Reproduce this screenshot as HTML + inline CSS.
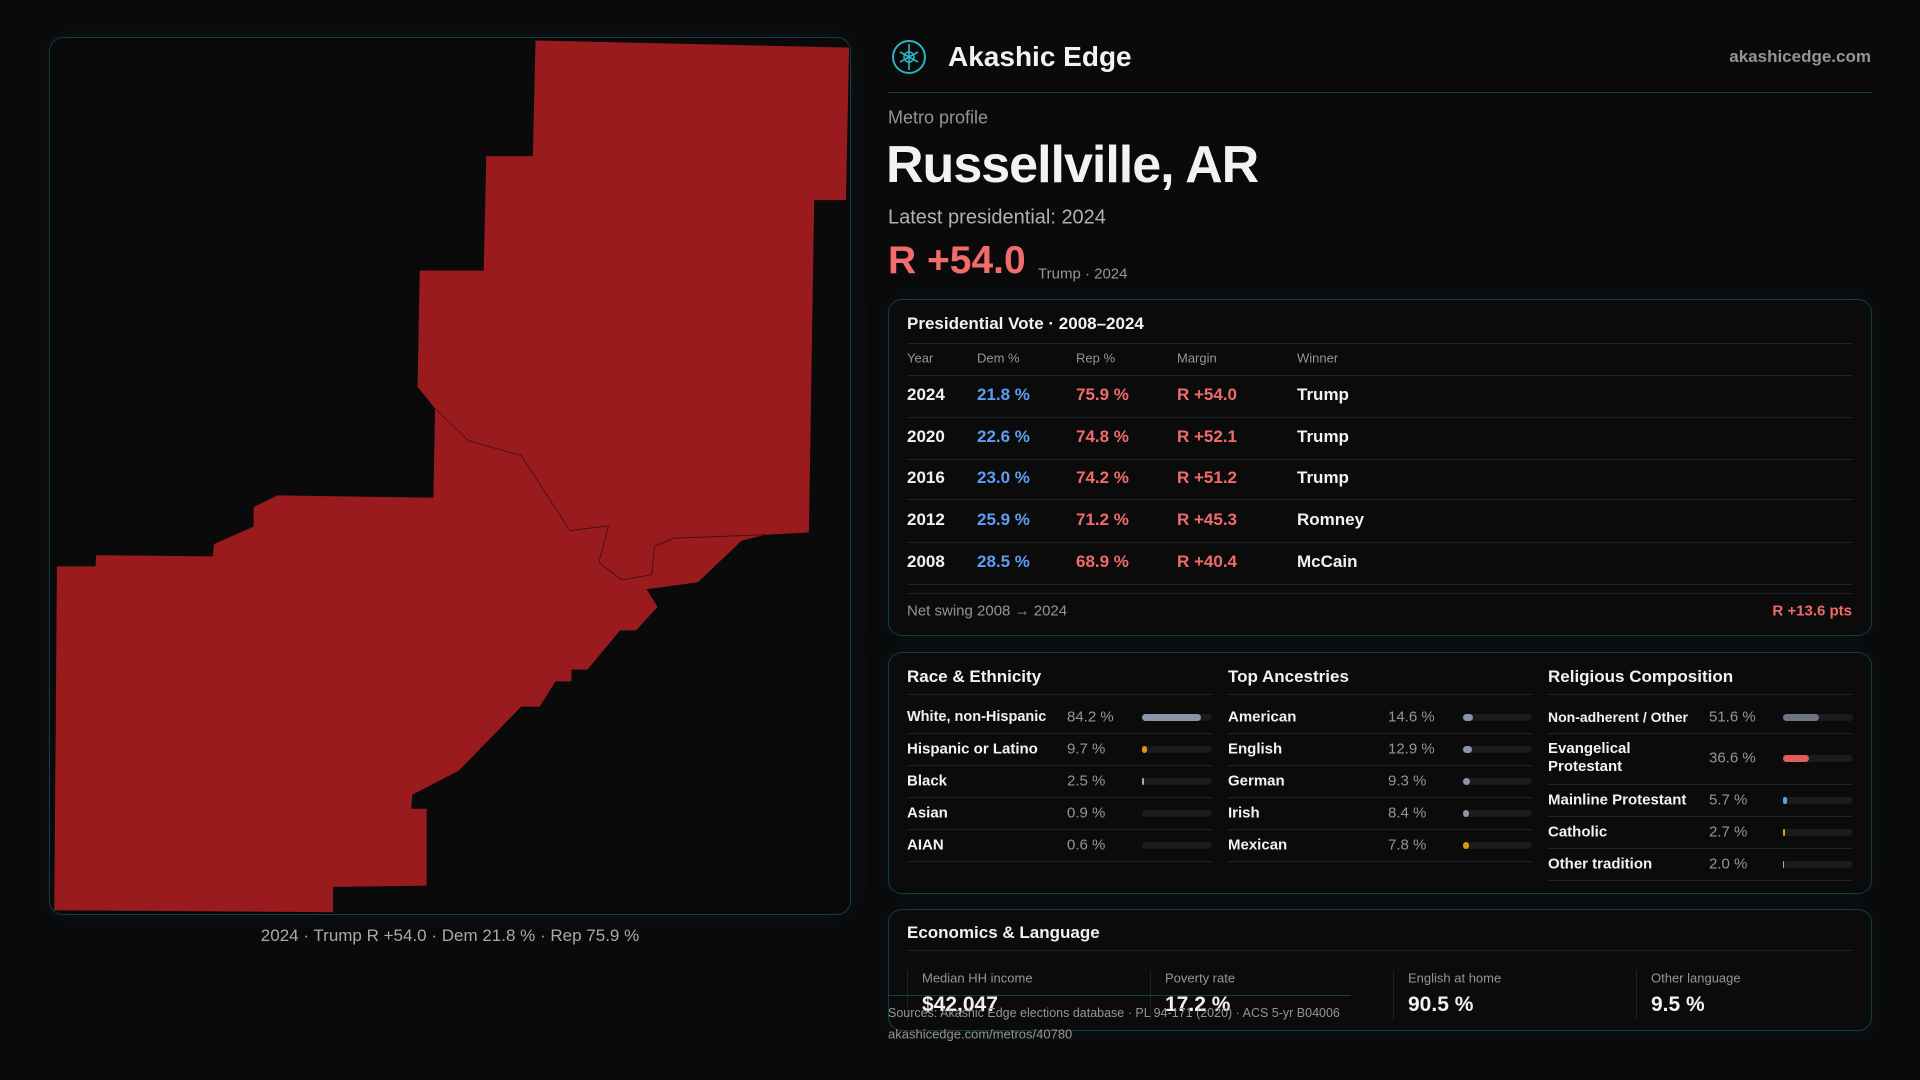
<!DOCTYPE html>
<html><head><meta charset="utf-8"><style>
*{margin:0;padding:0;box-sizing:border-box}
body{width:1920px;height:1080px;background:#0a0a0b;font-family:"Liberation Sans",sans-serif;color:#f2f2f2;position:relative;overflow:hidden}
.a{position:absolute;white-space:nowrap}
.c{transform:translateY(-50%)}
.card{position:absolute;border:1px solid #153c43;border-radius:14px;background:#0b0b0c;box-shadow:0 0 22px rgba(30,80,90,0.18)}
.hl{position:absolute;height:1px;background:#1f2224}
.g{color:#9a948f}
.b{color:#5d9ef2}.r{color:#f16b6b}
.bar{position:absolute;height:7px;border-radius:4px;background:#1a1b1d}
.bar i{position:absolute;left:0;top:0;height:7px;border-radius:4px}
</style></head><body>
<div class="card" style="left:49px;top:37px;width:802px;height:878px;background:#0b0a0b"></div>
<svg class="a" style="left:0;top:0" width="900" height="940">
<g transform="translate(41.07,29.96) scale(0.5288,0.5869)">
<polygon fill="#9a1b1e" points="935,18 1528,30 1522,290 1462,290 1452,856 1370,860 1325,870 1242,941 1145,953 1166,983 1125,1023 1095,1023 1033,1090 1003,1090 1003,1110 973,1110 943,1153 908,1153 790,1262 702,1303 700,1327 729,1327 729,1458 552,1460 552,1503 25,1500 30,914 103,914 104,895 325,897 327,876 402,846 402,813 447,793 742,797 745,645 712,608 716,410 837,410 842,215 930,215"/>
<polyline fill="none" stroke="#3a0e10" stroke-width="1.4" points="745,645 795,688 808,700 908,725 1000,853 1073,845 1055,907 1098,937 1155,928 1160,880 1195,866 1370,860"/>
</g></svg>
<div class="a c g" style="left:450px;top:936px;transform:translate(-50%,-50%);font-size:17px;color:#b0a9a3">2024 · Trump R +54.0 · Dem 21.8 % · Rep 75.9 %</div>

<svg class="a" style="left:890px;top:38px" width="38" height="38"><circle cx="19" cy="19" r="16" fill="none" stroke="#2bb3c4" stroke-width="2"/><path d="M19 6 L19 32 M10 14 L28 24 M28 14 L10 24" stroke="#2bb3c4" stroke-width="1.6" fill="none"/><circle cx="19" cy="19" r="5" fill="none" stroke="#2bb3c4" stroke-width="1.5"/></svg>
<div class="a c" style="left:948px;top:57px;font-size:28px;font-weight:bold">Akashic Edge</div>
<div class="a c g" style="right:49px;top:57px;font-size:17px;font-weight:bold">akashicedge.com</div>
<div class="hl" style="left:888px;top:92px;width:984px;background:#153c43"></div>
<div class="a c g" style="left:888px;top:118px;font-size:18px">Metro profile</div>
<div class="a c" style="left:886px;top:165px;font-size:52px;font-weight:bold;letter-spacing:-1px">Russellville, AR</div>
<div class="a c" style="left:888px;top:218px;font-size:20px;color:#b6afaa">Latest presidential: 2024</div>
<div class="a c r" style="left:888px;top:261px;font-size:39px;font-weight:bold;color:#f26c6c">R +54.0</div>
<div class="a c g" style="left:1038px;top:274px;font-size:15px">Trump · 2024</div>

<div class="card" style="left:888px;top:299px;width:984px;height:337px"></div>
<div class="a c" style="left:907px;top:324px;font-size:17px;font-weight:bold">Presidential Vote · 2008–2024</div>
<div class="hl" style="left:907px;top:343px;width:946px"></div>
<div class="a c g" style="left:907px;top:358px;font-size:13px">Year</div>
<div class="a c g" style="left:977px;top:358px;font-size:13px">Dem %</div>
<div class="a c g" style="left:1076px;top:358px;font-size:13px">Rep %</div>
<div class="a c g" style="left:1177px;top:358px;font-size:13px">Margin</div>
<div class="a c g" style="left:1297px;top:358px;font-size:13px">Winner</div>
<div class="hl" style="left:907px;top:375px;width:946px"></div>
<div style="font-size:17px;font-weight:bold">
<div class="a c" style="left:907px;top:395px">2024</div><div class="a c b" style="left:977px;top:395px">21.8 %</div><div class="a c r" style="left:1076px;top:395px">75.9 %</div><div class="a c r" style="left:1177px;top:395px">R +54.0</div><div class="a c" style="left:1297px;top:395px">Trump</div>
<div class="hl" style="left:907px;top:417px;width:946px"></div>
<div class="a c" style="left:907px;top:437px">2020</div><div class="a c b" style="left:977px;top:437px">22.6 %</div><div class="a c r" style="left:1076px;top:437px">74.8 %</div><div class="a c r" style="left:1177px;top:437px">R +52.1</div><div class="a c" style="left:1297px;top:437px">Trump</div>
<div class="hl" style="left:907px;top:459px;width:946px"></div>
<div class="a c" style="left:907px;top:478px">2016</div><div class="a c b" style="left:977px;top:478px">23.0 %</div><div class="a c r" style="left:1076px;top:478px">74.2 %</div><div class="a c r" style="left:1177px;top:478px">R +51.2</div><div class="a c" style="left:1297px;top:478px">Trump</div>
<div class="hl" style="left:907px;top:499px;width:946px"></div>
<div class="a c" style="left:907px;top:520px">2012</div><div class="a c b" style="left:977px;top:520px">25.9 %</div><div class="a c r" style="left:1076px;top:520px">71.2 %</div><div class="a c r" style="left:1177px;top:520px">R +45.3</div><div class="a c" style="left:1297px;top:520px">Romney</div>
<div class="hl" style="left:907px;top:542px;width:946px"></div>
<div class="a c" style="left:907px;top:562px">2008</div><div class="a c b" style="left:977px;top:562px">28.5 %</div><div class="a c r" style="left:1076px;top:562px">68.9 %</div><div class="a c r" style="left:1177px;top:562px">R +40.4</div><div class="a c" style="left:1297px;top:562px">McCain</div>
</div>
<div class="hl" style="left:907px;top:584px;width:946px"></div>
<div class="hl" style="left:907px;top:593px;width:946px"></div>
<div class="a c g" style="left:907px;top:611px;font-size:15px">Net swing 2008 → 2024</div>
<div class="a c r" style="right:68px;top:611px;font-size:15px;font-weight:bold">R +13.6 pts</div>

<div class="card" style="left:888px;top:652px;width:984px;height:242px"></div>
<div style="font-size:15px;font-weight:bold">
<div class="a c" style="left:907px;top:677px;font-size:17px">Race &amp; Ethnicity</div>
<div class="a c" style="left:1228px;top:677px;font-size:17px">Top Ancestries</div>
<div class="a c" style="left:1548px;top:677px;font-size:17px">Religious Composition</div>
<div class="hl" style="left:907px;top:694px;width:305px"></div><div class="hl" style="left:1228px;top:694px;width:304px"></div><div class="hl" style="left:1548px;top:694px;width:305px"></div>

<div class="a c" style="left:907px;top:717px;font-size:14.5px">White, non-Hispanic</div><div class="a c g" style="left:1067px;top:717px;font-weight:normal">84.2 %</div><div class="bar" style="left:1142px;top:714px;width:70px"><i style="width:59px;background:#8a95a6"></i></div>
<div class="a c" style="left:907px;top:749px">Hispanic or Latino</div><div class="a c g" style="left:1067px;top:749px;font-weight:normal">9.7 %</div><div class="bar" style="left:1142px;top:746px;width:70px"><i style="width:5px;background:#e0930f"></i></div>
<div class="a c" style="left:907px;top:781px">Black</div><div class="a c g" style="left:1067px;top:781px;font-weight:normal">2.5 %</div><div class="bar" style="left:1142px;top:778px;width:70px"><i style="width:2px;background:#aaa"></i></div>
<div class="a c" style="left:907px;top:813px">Asian</div><div class="a c g" style="left:1067px;top:813px;font-weight:normal">0.9 %</div><div class="bar" style="left:1142px;top:810px;width:70px"></div>
<div class="a c" style="left:907px;top:845px">AIAN</div><div class="a c g" style="left:1067px;top:845px;font-weight:normal">0.6 %</div><div class="bar" style="left:1142px;top:842px;width:70px"></div>
<div class="hl" style="left:907px;top:733px;width:305px"></div><div class="hl" style="left:907px;top:765px;width:305px"></div><div class="hl" style="left:907px;top:797px;width:305px"></div><div class="hl" style="left:907px;top:829px;width:305px"></div><div class="hl" style="left:907px;top:861px;width:305px"></div>

<div class="a c" style="left:1228px;top:717px">American</div><div class="a c g" style="left:1388px;top:717px;font-weight:normal">14.6 %</div><div class="bar" style="left:1463px;top:714px;width:69px"><i style="width:10px;background:#8a95a6"></i></div>
<div class="a c" style="left:1228px;top:749px">English</div><div class="a c g" style="left:1388px;top:749px;font-weight:normal">12.9 %</div><div class="bar" style="left:1463px;top:746px;width:69px"><i style="width:9px;background:#8a95a6"></i></div>
<div class="a c" style="left:1228px;top:781px">German</div><div class="a c g" style="left:1388px;top:781px;font-weight:normal">9.3 %</div><div class="bar" style="left:1463px;top:778px;width:69px"><i style="width:7px;background:#8a95a6"></i></div>
<div class="a c" style="left:1228px;top:813px">Irish</div><div class="a c g" style="left:1388px;top:813px;font-weight:normal">8.4 %</div><div class="bar" style="left:1463px;top:810px;width:69px"><i style="width:6px;background:#8a95a6"></i></div>
<div class="a c" style="left:1228px;top:845px">Mexican</div><div class="a c g" style="left:1388px;top:845px;font-weight:normal">7.8 %</div><div class="bar" style="left:1463px;top:842px;width:69px"><i style="width:6px;background:#e0930f"></i></div>
<div class="hl" style="left:1228px;top:733px;width:304px"></div><div class="hl" style="left:1228px;top:765px;width:304px"></div><div class="hl" style="left:1228px;top:797px;width:304px"></div><div class="hl" style="left:1228px;top:829px;width:304px"></div><div class="hl" style="left:1228px;top:861px;width:304px"></div>

<div class="a c" style="left:1548px;top:717px;font-size:14px">Non-adherent / Other</div><div class="a c g" style="left:1709px;top:717px;font-weight:normal">51.6 %</div><div class="bar" style="left:1783px;top:714px;width:70px"><i style="width:36px;background:#6f7580"></i></div>
<div class="a c" style="left:1548px;top:758px;white-space:normal;line-height:18px;width:120px">Evangelical Protestant</div><div class="a c g" style="left:1709px;top:758px;font-weight:normal">36.6 %</div><div class="bar" style="left:1783px;top:755px;width:70px"><i style="width:26px;background:#df5d5d"></i></div>
<div class="a c" style="left:1548px;top:800px">Mainline Protestant</div><div class="a c g" style="left:1709px;top:800px;font-weight:normal">5.7 %</div><div class="bar" style="left:1783px;top:797px;width:70px"><i style="width:4px;background:#5d9ef2"></i></div>
<div class="a c" style="left:1548px;top:832px">Catholic</div><div class="a c g" style="left:1709px;top:832px;font-weight:normal">2.7 %</div><div class="bar" style="left:1783px;top:829px;width:70px"><i style="width:2px;background:#e0a010"></i></div>
<div class="a c" style="left:1548px;top:864px">Other tradition</div><div class="a c g" style="left:1709px;top:864px;font-weight:normal">2.0 %</div><div class="bar" style="left:1783px;top:861px;width:70px"><i style="width:1px;background:#aaa"></i></div>
<div class="hl" style="left:1548px;top:733px;width:305px"></div><div class="hl" style="left:1548px;top:784px;width:305px"></div><div class="hl" style="left:1548px;top:816px;width:305px"></div><div class="hl" style="left:1548px;top:848px;width:305px"></div><div class="hl" style="left:1548px;top:880px;width:305px"></div>
</div>

<div class="card" style="left:888px;top:909px;width:984px;height:122px"></div>
<div class="a c" style="left:907px;top:933px;font-size:17px;font-weight:bold">Economics &amp; Language</div>
<div class="hl" style="left:907px;top:950px;width:946px"></div>
<div class="hl" style="left:907px;top:970px;width:1px;height:50px"></div>
<div class="hl" style="left:1150px;top:970px;width:1px;height:50px"></div>
<div class="hl" style="left:1393px;top:970px;width:1px;height:50px"></div>
<div class="hl" style="left:1636px;top:970px;width:1px;height:50px"></div>
<div class="a c g" style="left:922px;top:978px;font-size:13px">Median HH income</div>
<div class="a c g" style="left:1165px;top:978px;font-size:13px">Poverty rate</div>
<div class="a c g" style="left:1408px;top:978px;font-size:13px">English at home</div>
<div class="a c g" style="left:1651px;top:978px;font-size:13px">Other language</div>
<div class="a c" style="left:922px;top:1005px;font-size:21px;font-weight:bold">$42,047</div>
<div class="a c" style="left:1165px;top:1005px;font-size:21px;font-weight:bold">17.2 %</div>
<div class="a c" style="left:1408px;top:1005px;font-size:21px;font-weight:bold">90.5 %</div>
<div class="a c" style="left:1651px;top:1005px;font-size:21px;font-weight:bold">9.5 %</div>
<div class="hl" style="left:888px;top:995px;width:463px;background:#153c43"></div>
<div class="a c g" style="left:888px;top:1013px;font-size:12.5px">Sources: Akashic Edge elections database · PL 94-171 (2020) · ACS 5-yr B04006</div>
<div class="a c g" style="left:888px;top:1034px;font-size:13px">akashicedge.com/metros/40780</div>
</body></html>
